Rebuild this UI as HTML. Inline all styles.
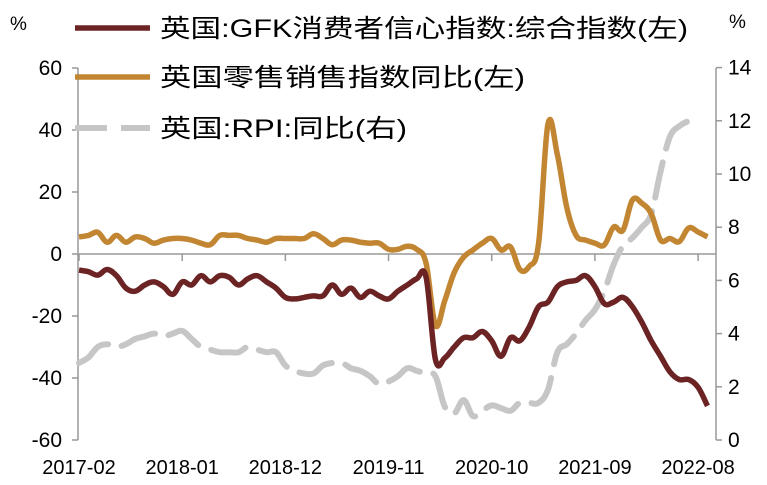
<!DOCTYPE html>
<html><head><meta charset="utf-8"><style>
html,body{margin:0;padding:0;background:#fff;}
svg{display:block;font-family:"Liberation Sans","Noto Sans CJK SC",sans-serif;}
</style></head><body>
<svg id="chart" width="767" height="485" viewBox="0 0 767 485"></svg>
<script>
const months=["2017-02","2018-01","2018-12","2019-11","2020-10","2021-09","2022-08"];
const leftTicks=[60,40,20,0,-20,-40,-60];
const rightTicks=[14,12,10,8,6,4,2,0];
const gfk=[-5.2,-5.7,-6.8,-5,-7,-11,-12,-10,-9,-10.5,-13,-9,-10,-7,-9,-7,-7.5,-10,-8,-7,-9,-11,-14,-14.5,-14,-13.5,-13.5,-10,-13,-11,-14,-12,-13.5,-14.5,-12,-10,-8,-7.5,-34,-33.5,-30,-27,-27,-25,-28,-33,-27,-28,-23.5,-17,-15.5,-10.5,-9,-8.5,-7,-10.5,-16,-15.5,-14,-17,-22,-28,-33,-38,-40.5,-40.5,-43,-49];
const retail=[5.5,6,7,3.8,6,3.8,5.5,5,3.5,4.5,5,5,4.5,3.5,3,6,6,6,5,4.5,3.8,5,5,5,5,6.5,5,3,4.5,4.5,3.8,3.5,3.5,1.5,1.5,2.5,1.5,-3,-23,-15,-6,-1,1.3,3.5,5,1.3,2.3,-5,-4,3.5,42,32,15,6,4.5,3.5,2.9,8.7,7.7,17.4,16.4,13,4.5,5,4,8.4,7.1,5.5];
const rpi=[2.9,3.1,3.5,3.6,3.5,3.6,3.8,3.9,4.0,3.9,4.0,4.1,3.8,3.5,3.4,3.3,3.3,3.3,3.5,3.4,3.3,3.3,2.8,2.6,2.5,2.5,2.8,2.9,2.9,2.7,2.6,2.4,2.1,2.2,2.4,2.7,2.6,2.5,2.4,1.25,1.0,1.5,0.9,1.1,1.3,1.2,1.1,1.4,1.4,1.4,1.9,3.3,3.6,4.0,4.5,4.9,5.6,6.6,7.3,7.6,8.0,8.5,10.1,11.4,11.8,12.0,12.2];
const ns="http://www.w3.org/2000/svg";
const svg=document.getElementById('chart');
const X0=79, DX=9.38, LX=78, RX=716;
const xOf=i=>X0+DX*i;
const yL=v=>254-v*3.1;
const yR=v=>440-v*26.6;
function mk(tag,attrs,parent){const e=document.createElementNS(ns,tag);for(const k in attrs)e.setAttribute(k,attrs[k]);(parent||svg).appendChild(e);return e;}
let ax=mk('line',{x1:LX,y1:68,x2:LX,y2:440,stroke:'#999','stroke-width':1.5});


let ax2=mk('line',{x1:RX,y1:68,x2:RX,y2:440,stroke:'#999','stroke-width':1.5});


let zl=mk('line',{x1:LX,y1:yL(0),x2:RX,y2:yL(0),stroke:'#999','stroke-width':1.5});


leftTicks.forEach(v=>{
  mk('line',{x1:LX-6,y1:yL(v),x2:LX,y2:yL(v),stroke:'#999','stroke-width':1.5});
  const t=mk('text',{x:62,y:yL(v)+7,'text-anchor':'end','font-size':21,fill:'#000'});
  t.textContent=v;
  
  
});
rightTicks.forEach(v=>{
  mk('line',{x1:RX,y1:yR(v),x2:RX+6,y2:yR(v),stroke:'#999','stroke-width':1.5});
  const t=mk('text',{x:728,y:yR(v)+7,'text-anchor':'start','font-size':21,fill:'#000'});
  t.textContent=v;
  
  
});
months.forEach((m,k)=>{
  const x=xOf(k*11);
  mk('line',{x1:x,y1:yL(0),x2:x,y2:yL(0)+7,stroke:'#999','stroke-width':1.5});
  const t=mk('text',{x:x,y:474,'text-anchor':'middle','font-size':20,fill:'#000'});
  t.textContent=m;
  
  
});
function smooth(arr,f){
  const p=arr.map((v,i)=>[xOf(i),f(v)]);
  let d='M'+p[0][0].toFixed(1)+','+p[0][1].toFixed(1);
  const t=0.18;
  for(let i=0;i<p.length-1;i++){
    const p0=p[Math.max(0,i-1)],p1=p[i],p2=p[i+1],p3=p[Math.min(p.length-1,i+2)];
    const c1=[p1[0]+(p2[0]-p0[0])*t,p1[1]+(p2[1]-p0[1])*t];
    const c2=[p2[0]-(p3[0]-p1[0])*t,p2[1]-(p3[1]-p1[1])*t];
    d+=' C'+c1.map(n=>n.toFixed(1)).join(',')+' '+c2.map(n=>n.toFixed(1)).join(',')+' '+p2[0].toFixed(1)+','+p2[1].toFixed(1);
  }
  return d;
}
let p3=mk('path',{d:smooth(rpi,yR),fill:'none',stroke:'#c6c6c6','stroke-width':6,'stroke-dasharray':'36 14','stroke-linejoin':'round','stroke-linecap':'round'});


let p2=mk('path',{d:smooth(retail,yL),fill:'none',stroke:'#c28633','stroke-width':5.5,'stroke-linejoin':'round'});


let p1=mk('path',{d:smooth(gfk,yL),fill:'none',stroke:'#6b2323','stroke-width':5.5,'stroke-linejoin':'round'});


</script>
<svg width="767" height="485" style="position:absolute;left:0;top:0;font-family:'Liberation Sans','Noto Sans CJK SC',sans-serif">
  <text x="10" y="30" font-size="19">%</text>
  <text x="729" y="28" font-size="19">%</text>
  <g>
    <line x1="75" y1="28" x2="150" y2="28" stroke="#6b2323" stroke-width="5.5"/>
    <text x="160" y="37" font-size="25" textLength="528" lengthAdjust="spacingAndGlyphs">英国:GFK消费者信心指数:综合指数(左)</text>
  </g>
  <g>
    <line x1="75" y1="77" x2="150" y2="77" stroke="#c28633" stroke-width="5.5"/>
    <text x="160" y="86" font-size="25" textLength="365" lengthAdjust="spacingAndGlyphs">英国零售销售指数同比(左)</text>
  </g>
  <g>
    <line x1="75" y1="128" x2="150" y2="128" stroke="#c6c6c6" stroke-width="6" stroke-dasharray="32 14"/>
    <text x="160" y="137" font-size="25" textLength="247" lengthAdjust="spacingAndGlyphs">英国:RPI:同比(右)</text>
  </g>
</svg>
</body></html>
